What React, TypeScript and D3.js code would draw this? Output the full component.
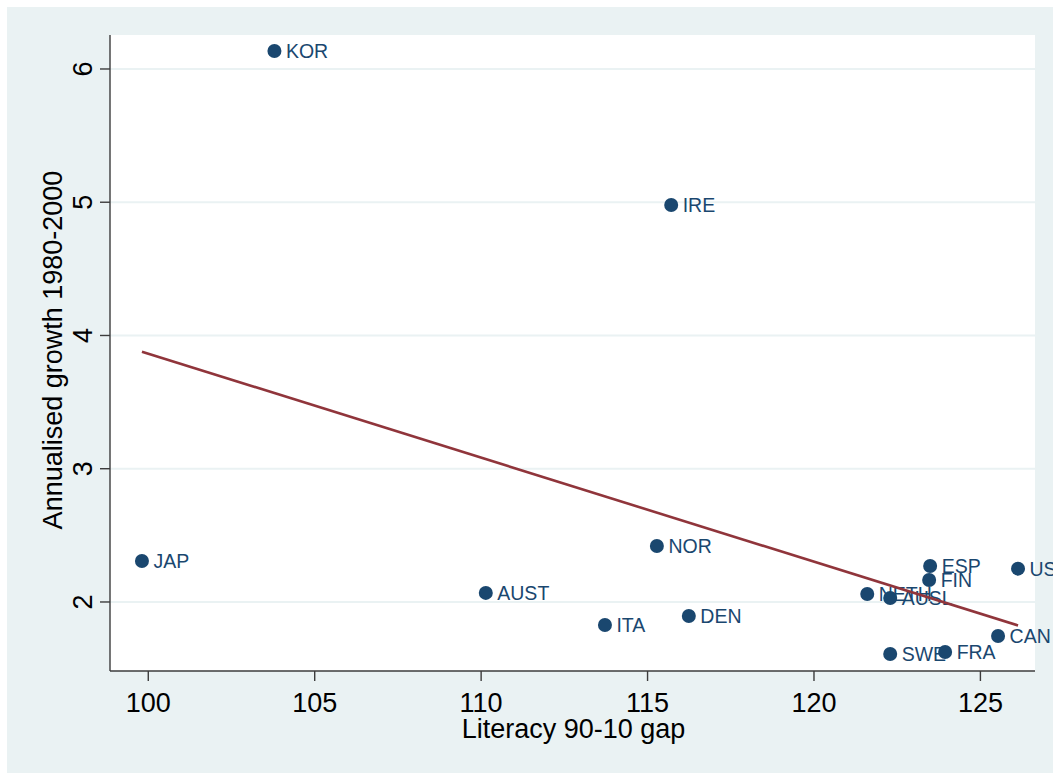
import { useMemo } from 'react';
import * as d3 from 'd3';

const WIDTH = 1053;
const HEIGHT = 773;

// country codes, literacy 90-10 gap, annualised growth 1980-2000
const countries = ['KOR', 'IRE', 'JAP', 'NOR', 'AUST', 'ITA', 'DEN', 'NETH', 'AUSL', 'ESP', 'FIN', 'USA', 'CAN', 'SWE', 'FRA'];
const literacyGap = [103.79, 115.71, 99.81, 115.28, 110.14, 113.72, 116.24, 121.6, 122.29, 123.49, 123.46, 126.13, 125.53, 122.29, 123.94];
const growth = [6.135, 4.979, 2.308, 2.42, 2.068, 1.827, 1.895, 2.06, 2.03, 2.27, 2.165, 2.25, 1.745, 1.61, 1.625];

const xTicks = [100, 105, 110, 115, 120, 125];
const yTicks = [2, 3, 4, 5, 6];

const BG = '#eaf2f3';
const NAVY = '#1a476f';
const MAROON = '#90353b';
const FONT = '"Liberation Sans", Arial, sans-serif';

const margin = { top: 35, right: 18, bottom: 102, left: 110 };

const App = () => {
  const x = d3.scaleLinear().domain([98.85, 126.64]).range([margin.left, WIDTH - margin.right]);
  const y = d3.scaleLinear().domain([1.482, 6.255]).range([HEIGHT - margin.bottom, margin.top]);

  // least-squares fit line
  const fit = useMemo(() => {
    const mx = d3.mean(literacyGap) as number;
    const my = d3.mean(growth) as number;
    let sxy = 0;
    let sxx = 0;
    literacyGap.forEach((v, i) => {
      sxy += (v - mx) * (growth[i] - my);
      sxx += (v - mx) * (v - mx);
    });
    const b = sxy / sxx;
    const a = my - b * mx;
    const [lo, hi] = d3.extent(literacyGap) as [number, number];
    return [[lo, a + b * lo], [hi, a + b * hi]] as [number, number][];
  }, []);

  const line = d3.line<[number, number]>()
    .x(d => x(d[0]))
    .y(d => y(d[1]));

  const [x0, x1] = x.range();
  const [yBottom, yTop] = y.range();

  return (
    <svg width={WIDTH} height={HEIGHT} style={{ position: 'absolute', left: 0, top: 0, display: 'block' }}>
      <rect x={0} y={0} width={WIDTH} height={HEIGHT} fill="#fff" />
      <rect x={7} y={7} width={WIDTH - 7} height={HEIGHT - 7} fill={BG} />
      <rect x={x0} y={yTop} width={x1 - x0} height={yBottom - yTop} fill="#fff" />

      {/* gridlines */}
      {yTicks.map(t => (
        <line key={'g' + t} x1={x0} x2={WIDTH} y1={y(t)} y2={y(t)} stroke={BG} strokeWidth={2} />
      ))}

      {/* axes */}
      <line x1={x0} x2={x0} y1={yTop} y2={yBottom} stroke="#3c3c3c" strokeWidth={1.4} />
      <line x1={x0} x2={x1} y1={yBottom} y2={yBottom} stroke="#3c3c3c" strokeWidth={1.4} />

      {xTicks.map(t => (
        <g key={'x' + t}>
          <line x1={x(t)} x2={x(t)} y1={yBottom} y2={yBottom + 10} stroke="#3c3c3c" strokeWidth={1.4} />
          <text x={x(t)} y={yBottom + 41} textAnchor="middle" fontFamily={FONT} fontSize={27} fill="#000">{t}</text>
        </g>
      ))}
      {yTicks.map(t => (
        <g key={'y' + t}>
          <line x1={x0 - 10} x2={x0} y1={y(t)} y2={y(t)} stroke="#3c3c3c" strokeWidth={1.4} />
          <text transform={`translate(${x0 - 18},${y(t)}) rotate(-90)`} textAnchor="middle" fontFamily={FONT} fontSize={27} fill="#000">{t}</text>
        </g>
      ))}

      <text x={(x0 + x1) / 2 + 1} y={738} textAnchor="middle" fontFamily={FONT} fontSize={27} fill="#000">Literacy 90-10 gap</text>
      <text transform={`translate(62,${(yTop + yBottom) / 2 - 3}) rotate(-90)`} textAnchor="middle" fontFamily={FONT} fontSize={27} fill="#000">Annualised growth 1980-2000</text>

      {/* points and labels */}
      {countries.map((c, i) => (
        <g key={c}>
          <circle cx={x(literacyGap[i])} cy={y(growth[i])} r={7} fill={NAVY} />
          <text x={x(literacyGap[i]) + 11.5} y={y(growth[i]) + 7} fontFamily={FONT} fontSize={19.5} fill={NAVY}>{c}</text>
        </g>
      ))}

      {/* fitted line */}
      <path d={line(fit) ?? ''} fill="none" stroke={MAROON} strokeWidth={2.6} />
    </svg>
  );
};

export default App;
